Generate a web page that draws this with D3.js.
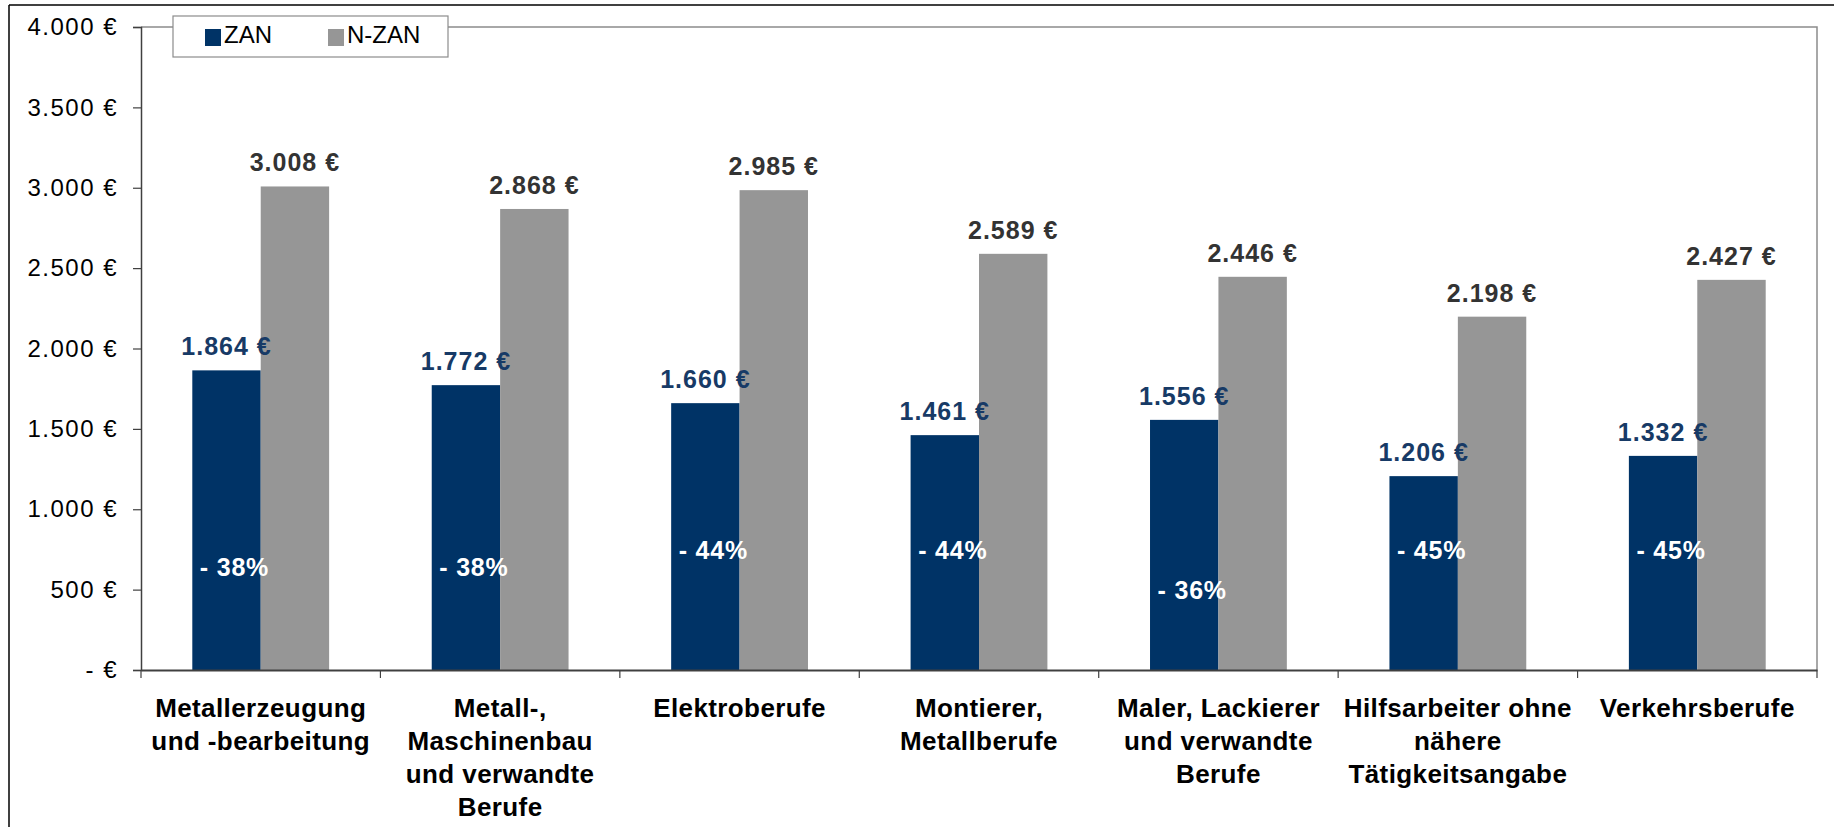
<html>
<head>
<script src='https://d3js.org/d3.v7.min.js'></script>
<style>
	body { margin:0; background:#fff; }
	svg { display:block; font-family:"Liberation Sans", Arial, sans-serif; }
	.tick text { font-size:24px; letter-spacing:1.5px; fill:#000; }
	.vlabel { font-size:25px; font-weight:bold; letter-spacing:1px; }
	.pct { font-size:25px; font-weight:bold; letter-spacing:0.8px; fill:#fff; }
	.cat { font-size:26px; font-weight:bold; letter-spacing:0.4px; fill:#000; }
	.leg { font-size:24px; fill:#000; }
</style>
</head>
<body>
<svg width=1834 height=827></svg>
<script>

// categories (x axis, one entry per line of the label)
var categories = [
	["Metallerzeugung", "und -bearbeitung"],
	["Metall-,", "Maschinenbau", "und verwandte", "Berufe"],
	["Elektroberufe"],
	["Montierer,", "Metallberufe"],
	["Maler, Lackierer", "und verwandte", "Berufe"],
	["Hilfsarbeiter ohne", "nähere", "Tätigkeitsangabe"],
	["Verkehrsberufe"]
];
var series = ["ZAN", "N-ZAN"];
var zan  = [1864, 1772, 1660, 1461, 1556, 1206, 1332];
var nzan = [3008, 2868, 2985, 2589, 2446, 2198, 2427];
var pctText = ["- 38%", "- 38%", "- 44%", "- 44%", "- 36%", "- 45%", "- 45%"];
var yTicks = [0, 500, 1000, 1500, 2000, 2500, 3000, 3500, 4000];

var colors = {"ZAN": "#003366", "N-ZAN": "#969696"};
var labelColors = {"ZAN": "#173a66", "N-ZAN": "#333333"};
// where the white percent labels sit (in € on the y scale), as placed in the original
var pctLevel = [585, 585, 690, 690, 440, 690, 690];

var svg = d3.select("svg");
var plotLeft = 141, plotRight = 1817, plotTop = 27, plotBottom = 670;

var de = d3.formatLocale({decimal: ",", thousands: ".", grouping: [3], currency: ["", " €"]});
var euro = function(v) { return v == 0 ? "- €" : de.format(",")(v) + " €"; };

var names = categories.map(function(c) { return c.join(" "); });
var x = d3.scaleBand().domain(names).range([plotLeft, plotRight]).padding(0);
var xs = d3.scaleBand().domain(series).range([0, x.bandwidth()]).paddingInner(0).paddingOuter(0.75);
var y = d3.scaleLinear().domain([0, 4000]).range([plotBottom, plotTop]);

var rows = names.map(function(n, i) {
	return {name: n, lines: categories[i], i: i, vals: [
		{s: "ZAN", v: zan[i]}, {s: "N-ZAN", v: nzan[i]}
	]};
});

//outer frame (cut off at right and bottom)
svg.append("line").attr("x1", 9).attr("x2", 1834).attr("y1", 5).attr("y2", 5)
	.attr("stroke", "#000").attr("stroke-width", 1.5);
svg.append("line").attr("x1", 9).attr("x2", 9).attr("y1", 5).attr("y2", 827)
	.attr("stroke", "#000").attr("stroke-width", 1.5);

//plot area border top and right
svg.append("path")
	.attr("d", "M" + plotLeft + "," + plotTop + "H" + plotRight + "V" + plotBottom)
	.attr("fill", "none").attr("stroke", "#8c8c8c").attr("stroke-width", 1.5);

//bars
var groups = svg.append("g").selectAll("g").data(rows).enter().append("g")
	.attr("transform", function(d) { return "translate(" + x(d.name) + ",0)"; });

groups.selectAll("rect").data(function(d) { return d.vals; }).enter().append("rect")
	.attr("x", function(d) { return xs(d.s); })
	.attr("y", function(d) { return y(d.v); })
	.attr("width", xs.bandwidth())
	.attr("height", function(d) { return y(0) - y(d.v); })
	.attr("fill", function(d) { return colors[d.s]; });

//value labels above the bars
groups.selectAll("text.vlabel").data(function(d) { return d.vals; }).enter().append("text")
	.attr("class", "vlabel")
	.attr("x", function(d) { return xs(d.s) + xs.bandwidth() / 2; })
	.attr("y", function(d) { return y(d.v) - 15; })
	.attr("text-anchor", "middle")
	.attr("fill", function(d) { return labelColors[d.s]; })
	.text(function(d) { return euro(d.v); });

//percent labels inside the ZAN bars
groups.append("text")
	.attr("class", "pct")
	.attr("x", xs("ZAN") + xs.bandwidth() / 2 + 8)
	.attr("y", function(d) { return y(pctLevel[d.i]); })
	.attr("text-anchor", "middle")
	.text(function(d) { return pctText[d.i]; });

//y axis
var yaxis = svg.append("g")
	.attr("transform", "translate(" + plotLeft + ",0)")
	.call(d3.axisLeft(y).tickValues(yTicks).tickSize(8).tickPadding(15).tickFormat(euro));
yaxis.select(".domain").attr("stroke", "#404040").attr("stroke-width", 1.5);
yaxis.selectAll(".tick line").attr("stroke", "#404040").attr("stroke-width", 1.2);
yaxis.attr("font-family", null).attr("font-size", null);

//x axis with ticks between categories
var xaxis = svg.append("g")
	.attr("transform", "translate(0," + plotBottom + ")")
	.call(d3.axisBottom(x).tickSize(0).tickFormat(""));
xaxis.select(".domain").attr("stroke", "#404040").attr("stroke-width", 2);
xaxis.selectAll(".tick").remove();

var bounds = names.map(function(n) { return x(n); }).concat([plotRight]);
xaxis.selectAll("line.sep").data(bounds).enter().append("line")
	.attr("class", "sep")
	.attr("x1", function(d) { return d; }).attr("x2", function(d) { return d; })
	.attr("y1", 0).attr("y2", 8)
	.attr("stroke", "#404040").attr("stroke-width", 1.2);

//category labels
var cats = svg.append("g").selectAll("text").data(rows).enter().append("text")
	.attr("class", "cat")
	.attr("text-anchor", "middle");
cats.selectAll("tspan").data(function(d) {
		return d.lines.map(function(l) { return {l: l, cx: x(d.name) + x.bandwidth() / 2}; });
	}).enter().append("tspan")
	.attr("x", function(d) { return d.cx; })
	.attr("y", function(d, i) { return plotBottom + 47 + i * 33; })
	.text(function(d) { return d.l; });

//legend
var legend = svg.append("g");
legend.append("rect").attr("x", 173).attr("y", 16).attr("width", 275).attr("height", 41)
	.attr("fill", "#fff").attr("stroke", "#8c8c8c").attr("stroke-width", 1.2);
var legX = [205, 328];
series.forEach(function(s, i) {
	legend.append("rect").attr("x", legX[i]).attr("y", 29).attr("width", 16).attr("height", 17)
		.attr("fill", colors[s]);
	legend.append("text").attr("class", "leg").attr("x", legX[i] + 19).attr("y", 43).text(s);
});

</script>
</body>
</html>
